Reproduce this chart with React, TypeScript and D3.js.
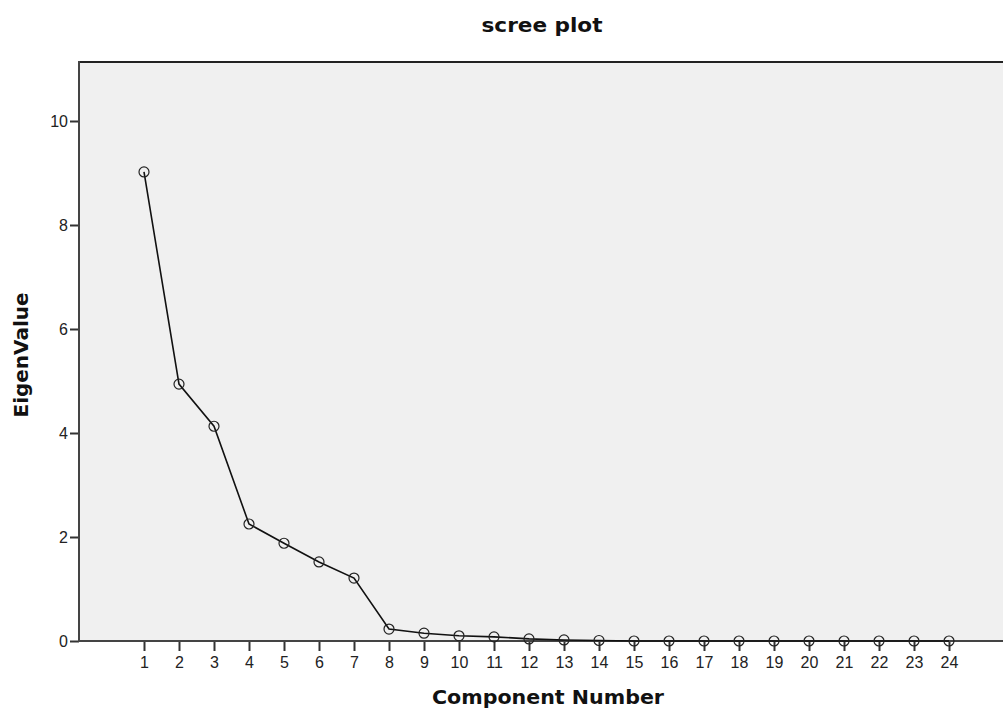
import { useEffect, useRef } from 'react';
import * as d3 from 'd3';

const components = [1, 2, 3, 4, 5, 6, 7, 8, 9, 10, 11, 12, 13, 14, 15, 16, 17, 18, 19, 20, 21, 22, 23, 24];
const eigenValues = [9.02, 4.94, 4.13, 2.25, 1.88, 1.52, 1.21, 0.23, 0.15, 0.1, 0.08, 0.04, 0.02, 0.01, 0.0, 0.0, 0.0, 0.0, 0.0, 0.0, 0.0, 0.0, 0.0, 0.0];
const yTicks = [0, 2, 4, 6, 8, 10];

const W = 1003;
const H = 711;

export default function App() {
  const svgRef = useRef<SVGSVGElement>(null);

  useEffect(() => {
    const svg = d3.select(svgRef.current);
    svg.selectAll('*').remove();

    const left = 79;
    const top = 62;
    const bottom = 641;
    const right = W;
    const tickFont = 'Liberation Sans, Arial, sans-serif';
    const titleFont = 'DejaVu Sans, Verdana, sans-serif';

    const x = d3.scaleLinear().domain([1, 24]).range([144, 949]);
    const y = d3.scaleLinear().domain([0, 10]).range([bottom, 121]);

    // plot background
    svg.append('rect')
      .attr('x', left).attr('y', top)
      .attr('width', right - left).attr('height', bottom - top)
      .attr('fill', '#f0f0f0');

    // top border
    svg.append('line')
      .attr('x1', left).attr('x2', right)
      .attr('y1', top).attr('y2', top)
      .attr('stroke', '#222').attr('stroke-width', 2);

    // Y Axis
    const yAxis = svg.append('g')
      .attr('transform', `translate(${left},0)`)
      .call(d3.axisLeft(y).tickValues(yTicks).tickSize(9).tickSizeOuter(0));
    yAxis.select('.domain').remove();
    yAxis.selectAll('.tick line').attr('stroke', '#333').attr('stroke-width', 2);
    yAxis.selectAll('.tick text')
      .attr('font-family', tickFont).attr('font-size', 16).attr('fill', '#222')
      .attr('x', -11);

    // X Axis
    const xAxis = svg.append('g')
      .attr('transform', `translate(0,${bottom})`)
      .call(d3.axisBottom(x).tickValues(components).tickFormat(d3.format('d')).tickSize(10).tickSizeOuter(0));
    xAxis.select('.domain').remove();
    xAxis.selectAll('.tick line').attr('stroke', '#333').attr('stroke-width', 2);
    xAxis.selectAll('.tick text')
      .attr('font-family', tickFont).attr('font-size', 16).attr('fill', '#222')
      .attr('y', 16);

    // axis lines
    svg.append('line')
      .attr('x1', left).attr('x2', left)
      .attr('y1', top - 1).attr('y2', bottom + 1)
      .attr('stroke', '#444').attr('stroke-width', 2);
    svg.append('line')
      .attr('x1', left).attr('x2', right)
      .attr('y1', bottom).attr('y2', bottom)
      .attr('stroke', '#444').attr('stroke-width', 2);

    // Data Line
    const line = d3.line<number>()
      .x((_, i) => x(components[i]))
      .y(d => y(d));

    svg.append('path')
      .datum(eigenValues)
      .attr('fill', 'none')
      .attr('stroke', '#111')
      .attr('stroke-width', 1.6)
      .attr('d', line);

    svg.selectAll('circle.pt')
      .data(eigenValues)
      .enter()
      .append('circle')
      .attr('class', 'pt')
      .attr('cx', (_, i) => x(components[i]))
      .attr('cy', d => y(d))
      .attr('r', 5)
      .attr('fill', 'none')
      .attr('stroke', '#222')
      .attr('stroke-width', 1.2);

    // Titles
    svg.append('text')
      .attr('x', 542).attr('y', 32)
      .attr('text-anchor', 'middle')
      .attr('font-family', titleFont).attr('font-size', 19).attr('font-weight', 'bold')
      .attr('textLength', 121).attr('lengthAdjust', 'spacingAndGlyphs')
      .attr('fill', '#111')
      .text('scree plot');

    svg.append('text')
      .attr('x', 548).attr('y', 704)
      .attr('text-anchor', 'middle')
      .attr('font-family', titleFont).attr('font-size', 19).attr('font-weight', 'bold')
      .attr('textLength', 232).attr('lengthAdjust', 'spacingAndGlyphs')
      .attr('fill', '#111')
      .text('Component Number');

    svg.append('text')
      .attr('transform', `translate(28,355) rotate(-90)`)
      .attr('text-anchor', 'middle')
      .attr('font-family', titleFont).attr('font-size', 19).attr('font-weight', 'bold')
      .attr('textLength', 125).attr('lengthAdjust', 'spacingAndGlyphs')
      .attr('fill', '#111')
      .text('EigenValue');
  }, []);

  return (
    <svg ref={svgRef} width={W} height={H} style={{ position: 'absolute', left: 0, top: 0 }} />
  );
}
